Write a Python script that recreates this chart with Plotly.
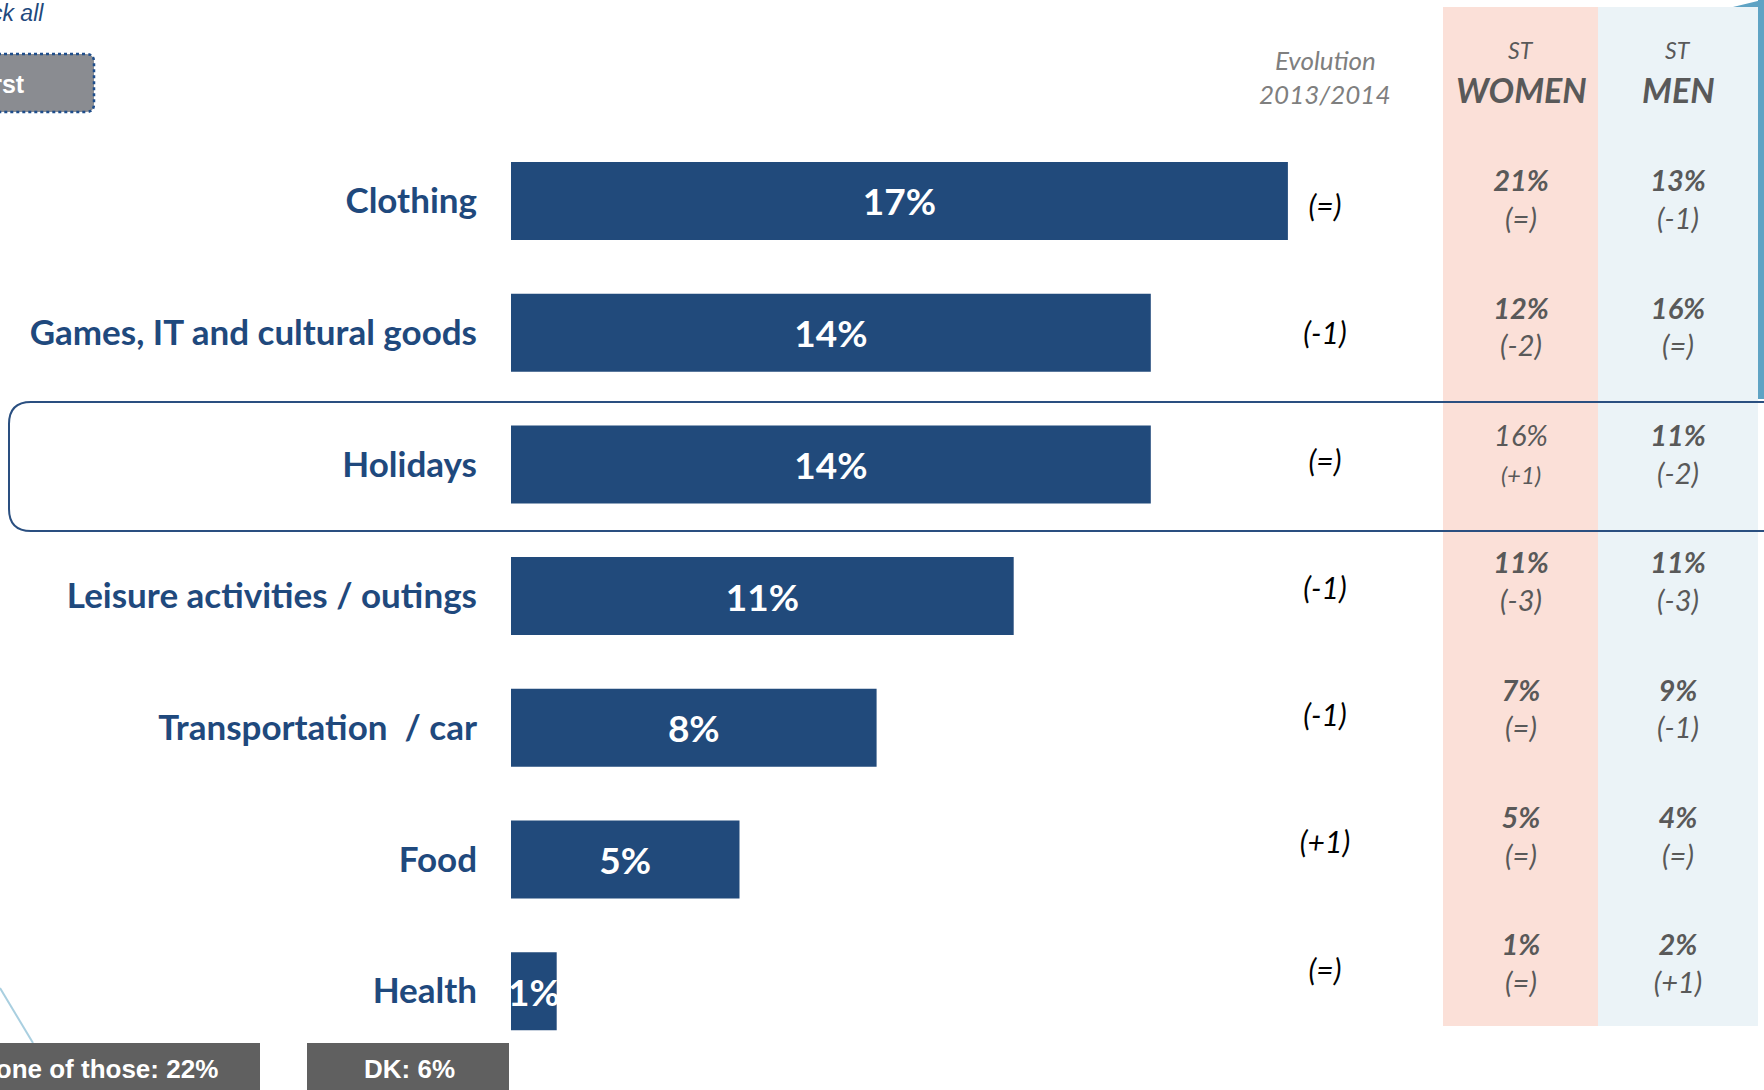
import plotly.graph_objects as go

W, H = 1764, 1090

# ---------------- data ----------------
categories = ["Clothing", "Games, IT and cultural goods", "Holidays",
              "Leisure activities / outings", "Transportation\u00a0 / car", "Food", "Health"]
share = [17, 14, 14, 11, 8, 5, 1]
evolution = ["(=)", "(-1)", "(=)", "(-1)", "(-1)", "(+1)", "(=)"]
women_pct = [21, 12, 16, 11, 7, 5, 1]
women_evo = ["(=)", "(-2)", "(+1)", "(-3)", "(=)", "(=)", "(=)"]
men_pct = [13, 16, 11, 11, 9, 4, 2]
men_evo = ["(-1)", "(=)", "(-2)", "(-3)", "(-1)", "(=)", "(+1)"]
none_label = "None of those: 22%"
dk_label = "DK: 6%"

# ---------------- style ----------------
BAR = "#214A7B"
NAVY = "#1F497D"
GREY_TXT = "#595959"
PINK = "#FBE0D8"
LBLUE = "#EBF3F7"
FONT = "Lato"


def px(x):
    return x / W


def py(y):
    return 1 - y / H


PX_PER_PCT = 45.7
BAR_LEFT = 511
EVO_X, WOMEN_X, MEN_X = 1325, 1521, 1678

fig = go.Figure()

fig.add_trace(go.Bar(
    x=share, y=categories, orientation="h",
    marker=dict(color=BAR, line=dict(width=0)),
    width=0.592,
    text=[f"{v}%" for v in share],
    textposition="inside", insidetextanchor="middle", textangle=0,
    constraintext="none", cliponaxis=False,
    textfont=dict(family=FONT, size=37, color="white", weight="bold"),
    hoverinfo="skip", showlegend=False,
))

# evolution column
fig.add_trace(go.Scatter(
    x=[EVO_X] * len(categories), y=categories, mode="text",
    text=[f"<i>{e}</i>" for e in evolution],
    textposition="middle center",
    textfont=dict(family=FONT, size=30, color="black"),
    xaxis="x2", yaxis="y2", hoverinfo="skip", showlegend=False, cliponaxis=False,
))


def cell(p, e, plain=False):
    if plain:
        return f"<i>{p}%</i><br><span style='font-size:24px'><i>{e}</i></span>"
    return f"<b><i>{p}%</i></b><br><i>{e}</i>"


women_txt = [cell(p, e, plain=(c == "Holidays")) for p, e, c in zip(women_pct, women_evo, categories)]
men_txt = [cell(p, e) for p, e in zip(men_pct, men_evo)]

for xpos, txt in ((WOMEN_X, women_txt), (MEN_X, men_txt)):
    fig.add_trace(go.Scatter(
        x=[xpos] * len(categories), y=categories, mode="text", text=txt,
        textposition="middle center",
        textfont=dict(family=FONT, size=29, color=GREY_TXT),
        xaxis="x2", yaxis="y3", hoverinfo="skip", showlegend=False, cliponaxis=False,
    ))

shapes = []
# coloured columns
shapes.append(dict(type="rect", xref="paper", yref="paper", x0=px(1443), x1=px(1598),
                   y0=py(1026), y1=py(7), fillcolor=PINK, line=dict(width=0), layer="below"))
shapes.append(dict(type="rect", xref="paper", yref="paper", x0=px(1598), x1=px(1758),
                   y0=py(1026), y1=py(7), fillcolor=LBLUE, line=dict(width=0), layer="below"))
# right edge accent
shapes.append(dict(type="rect", xref="paper", yref="paper", x0=px(1758), x1=px(1766),
                   y0=py(399), y1=py(0), fillcolor="#5FA3C4", line=dict(width=0), layer="above"))
shapes.append(dict(type="path", xref="paper", yref="paper",
                   path=f"M {px(1733)},{py(7)} L {px(1766)},{py(-1)} L {px(1766)},{py(7)} Z",
                   fillcolor="#5FA3C4", line=dict(width=0), layer="above"))


def rounded(x0, y0, x1, y1, r, right_open=False):
    rx, ry = r / W, r / H
    X0, X1, Y0, Y1 = px(x0), px(x1), py(y0), py(y1)
    if right_open:
        return (f"M {X0 + rx},{Y0} L {X1},{Y0} L {X1},{Y1} L {X0 + rx},{Y1} "
                f"Q {X0},{Y1} {X0},{Y1 + ry} L {X0},{Y0 - ry} Q {X0},{Y0} {X0 + rx},{Y0} Z")
    return (f"M {X0 + rx},{Y0} L {X1 - rx},{Y0} Q {X1},{Y0} {X1},{Y0 - ry} "
            f"L {X1},{Y1 + ry} Q {X1},{Y1} {X1 - rx},{Y1} L {X0 + rx},{Y1} "
            f"Q {X0},{Y1} {X0},{Y1 + ry} L {X0},{Y0 - ry} Q {X0},{Y0} {X0 + rx},{Y0} Z")


# highlight box around Holidays
shapes.append(dict(type="path", xref="paper", yref="paper",
                   path=rounded(9, 402, 1820, 531, 22, right_open=True),
                   line=dict(color="#2A4F80", width=2), fillcolor="rgba(0,0,0,0)", layer="above"))
# top-left button
shapes.append(dict(type="path", xref="paper", yref="paper",
                   path=rounded(-40, 54, 94, 112, 8),
                   line=dict(color="#1F4E8C", width=2.5, dash="dot"), fillcolor="#8A8C91", layer="above"))
# bottom boxes
shapes.append(dict(type="rect", xref="paper", yref="paper", x0=px(-40), x1=px(260),
                   y0=py(1092), y1=py(1043), fillcolor="#606060", line=dict(width=0), layer="above"))
shapes.append(dict(type="rect", xref="paper", yref="paper", x0=px(307), x1=px(509),
                   y0=py(1092), y1=py(1043), fillcolor="#606060", line=dict(width=0), layer="above"))
# decorative diagonal line
shapes.append(dict(type="line", xref="paper", yref="paper", x0=px(0), y0=py(988),
                   x1=px(33), y1=py(1043), line=dict(color="#A9CFE0", width=2), layer="below"))


def note(x, y, text, font, xanchor="center"):
    return dict(xref="paper", yref="paper", x=px(x), y=py(y), text=text, showarrow=False,
                xanchor=xanchor, yanchor="middle", font=font)


ann = []
ann.append(note(EVO_X, 60, "<i>Evolution</i>", dict(family=FONT, size=26, color="#7F7F7F")))
ann.append(note(EVO_X, 94, "<i>2013/2014</i>", dict(family=FONT, size=26, color="#7F7F7F")))
for xpos, lab in ((WOMEN_X, "WOMEN"), (MEN_X, "MEN")):
    ann.append(note(xpos, 50, "<i>ST</i>", dict(family=FONT, size=23, color=GREY_TXT)))
    ann.append(note(xpos, 90, f"<b><i>{lab}</i></b>", dict(family=FONT, size=34, color=GREY_TXT)))
ann.append(note(46, 13, "<i>Tick all</i>", dict(family="Liberation Sans", size=23, color=NAVY), "right"))
ann.append(note(27, 84, "<b>First</b>", dict(family="Liberation Sans", size=25, color="white"), "right"))
ann.append(note(220, 1069, f"<b>{none_label}</b>", dict(family="Liberation Sans", size=26, color="white"), "right"))
ann.append(note(409, 1069, f"<b>{dk_label}</b>", dict(family="Liberation Sans", size=26, color="white")))

fig.update_layout(
    width=W, height=H,
    margin=dict(l=0, r=0, t=0, b=0),
    paper_bgcolor="white", plot_bgcolor="rgba(0,0,0,0)",
    showlegend=False,
    xaxis=dict(domain=[px(BAR_LEFT), 1], range=[0, (W - BAR_LEFT) / PX_PER_PCT],
               visible=False, fixedrange=True),
    yaxis=dict(type="category", categoryarray=categories, range=[6.750, -1.526],
               showgrid=False, zeroline=False, showline=False, ticks="",
               ticklabelstandoff=33, automargin=False,
               tickfont=dict(family=FONT, size=35, color=NAVY, weight="bold"), fixedrange=True),
    xaxis2=dict(domain=[0, 1], range=[0, W], anchor="y2", visible=False, fixedrange=True),
    yaxis2=dict(type="category", categoryarray=categories, range=[6.917, -1.646],
                anchor="x2", domain=[0, 1], visible=False, fixedrange=True),
    yaxis3=dict(type="category", categoryarray=categories, range=[6.968, -1.595],
                anchor="x2", overlaying="y2", visible=False, fixedrange=True),
    shapes=shapes,
    annotations=ann,
)

fig.write_html("out.html", config={"displayModeBar": False})
